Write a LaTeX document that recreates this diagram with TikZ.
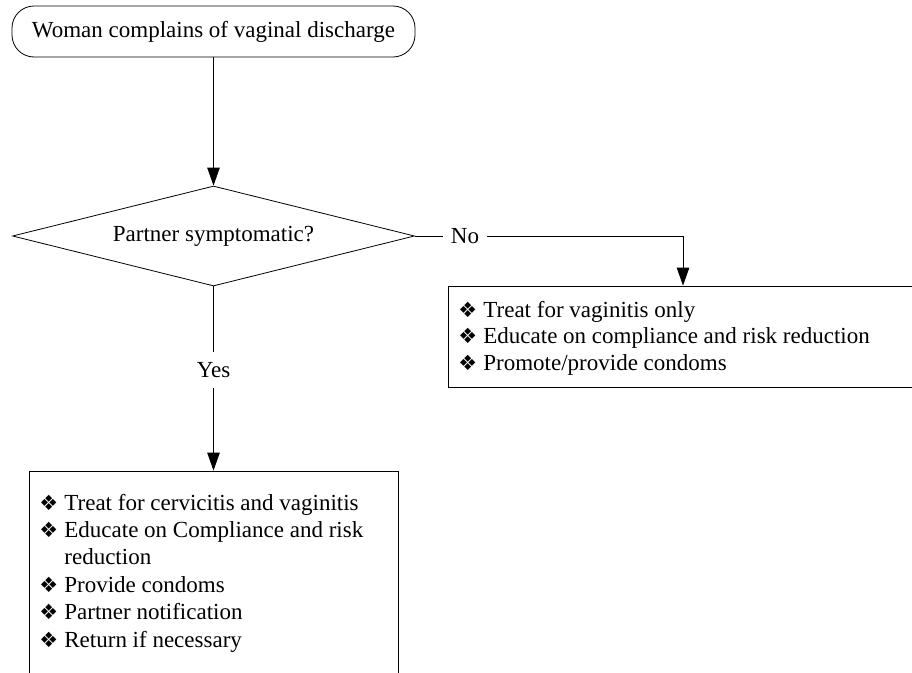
\documentclass[tikz,border=0pt]{standalone}
\usepackage{fontspec}
\setmainfont{Liberation Serif}
\newfontfamily\bulfont{DejaVu Sans}
\usetikzlibrary{arrows.meta,shapes.geometric}
\newcommand{\bitem}[1]{\hangindent=25pt\hangafter=1\noindent\makebox[25pt][l]{\bulfont\fontsize{21}{21}\selectfont ❖}#1\par}
\begin{document}
\begin{tikzpicture}[x=1pt,y=-1pt,
  every node/.style={font=\fontsize{23}{26.5}\selectfont},
  line width=0.8pt,
  arr/.style={-{Triangle[length=18pt,width=12.5pt]}},
  box/.style={draw, inner sep=0pt},
  txt/.style={anchor=base west, inner sep=0pt, align=flush left}]
\useasboundingbox (0,0) rectangle (912,672);
\clip (0,0) rectangle (912,672);
\node[box, rounded corners=22pt, minimum width=403pt, minimum height=51pt] (start) at (213.5,31.5) {Woman complains of vaginal discharge};
\node[box, diamond, aspect=4, minimum width=402pt, minimum height=100pt] (dec) at (213.5,236) {Partner symptomatic?};
\node[inner xsep=8pt, inner ysep=2pt] (no) at (465,236) {No};
\node[inner xsep=0pt, inner ysep=9.5pt] (yes) at (213.5,370) {Yes};
\node[box, minimum width=470pt, minimum height=101pt] (rbox) at (683,336.5) {};
\node[box, minimum width=369pt, minimum height=230pt] (bbox) at (213.5,586) {};
\node[txt, text width=440pt] (rtext) at (458,317) {\bitem{Treat for vaginitis only}\bitem{Educate on compliance and risk reduction}\bitem{Promote/provide condoms}};
\node[txt, text width=350pt, font=\fontsize{23}{27.4}\selectfont] (btext) at (39,510) {\bitem{Treat for cervicitis and vaginitis}\bitem{Educate on Compliance and risk\newline reduction}\bitem{Provide condoms}\bitem{Partner notification}\bitem{Return if necessary}};
\draw[arr] (start.south) -- (dec.north);
\draw (dec.east) -- (no.west);
\draw[arr] (no.east) -| (rbox.north);
\draw (dec.south) -- (yes.north);
\draw[arr] (yes.south) -- (bbox.north);
\end{tikzpicture}
\end{document}
